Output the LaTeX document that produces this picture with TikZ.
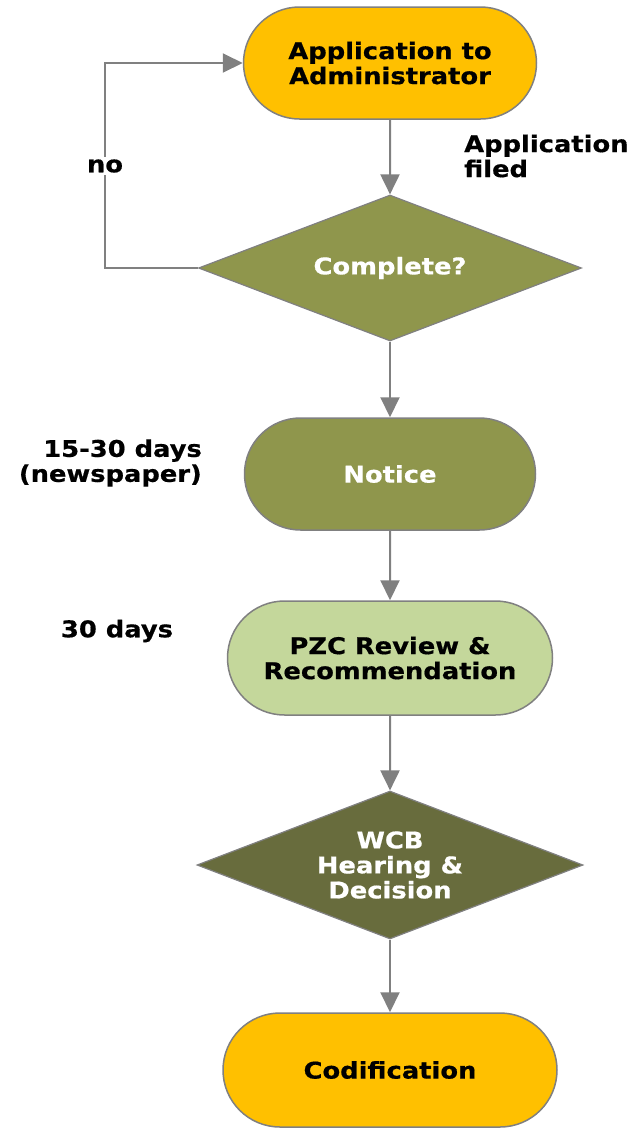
\documentclass[tikz,border=0pt]{standalone}
\usepackage{fontspec}
\newfontfamily\lblfont{DejaVu Sans}[FakeStretch=1.12,FakeBold=0.6]
\usetikzlibrary{shapes.misc,shapes.geometric,arrows.meta}
\definecolor{goldfill}{HTML}{FFC000}
\definecolor{olivefill}{HTML}{8F964C}
\definecolor{palefill}{HTML}{C4D79B}
\definecolor{darkolive}{HTML}{686C3D}
\definecolor{edgegray}{HTML}{808080}
\begin{document}
\begin{tikzpicture}[x=1pt,y=-1pt,
  font=\lblfont\bfseries\fontsize{23}{25}\selectfont,
  stadium/.style={rounded rectangle, draw=edgegray, line width=1.5pt,
    align=center, inner sep=0pt},
  decision/.style={diamond, draw=edgegray, line width=1.2pt,
    align=center, inner sep=0pt},
  flow/.style={draw=edgegray, line width=2pt,
    -{Triangle[length=20pt,width=19pt]}},
  note/.style={align=left, inner sep=0pt}]
\useasboundingbox (0,0) rectangle (629,1128);

% process steps and decisions
\node[stadium, fill=goldfill, minimum width=293pt, minimum height=112pt]
  (app) at (390,63) {Application to\\Administrator};
\node[decision, fill=olivefill, text=white, aspect=2.62,
  minimum width=383pt, minimum height=146pt]
  (comp) at (390,268) {Complete?};
\node[stadium, fill=olivefill, text=white, minimum width=291pt, minimum height=112pt]
  (notice) at (390,474) {Notice};
\node[stadium, fill=palefill, minimum width=325pt, minimum height=114pt]
  (pzc) at (390,658) {PZC Review \&\\Recommendation};
\node[decision, fill=darkolive, text=white, aspect=2.62,
  minimum width=386pt, minimum height=148pt]
  (wcb) at (390,865) {WCB\\Hearing \&\\Decision};
\node[stadium, fill=goldfill, minimum width=334pt, minimum height=114pt]
  (cod) at (390,1070) {Codification};

% main flow
\draw[flow] (app) -- (comp);
\draw[flow] (comp) -- (notice);
\draw[flow] (notice) -- (pzc);
\draw[flow] (pzc) -- (wcb);
\draw[flow] (wcb) -- (cod);

% return loop for an incomplete application
\coordinate (loop) at (104.5,166);
\draw[flow] (comp.west) -| (loop) |- (app.west);
\node[fill=white, inner sep=2pt] (no) at (105,166) {no};

% side notes
\node[note, anchor=west] (filed) at (464,156) {Application\\filed};
\node[note, align=right, anchor=east] (days1) at (202,463) {15-30 days\\(newspaper)};
\node[note] (days2) at (117,631) {30 days};
\end{tikzpicture}
\end{document}
